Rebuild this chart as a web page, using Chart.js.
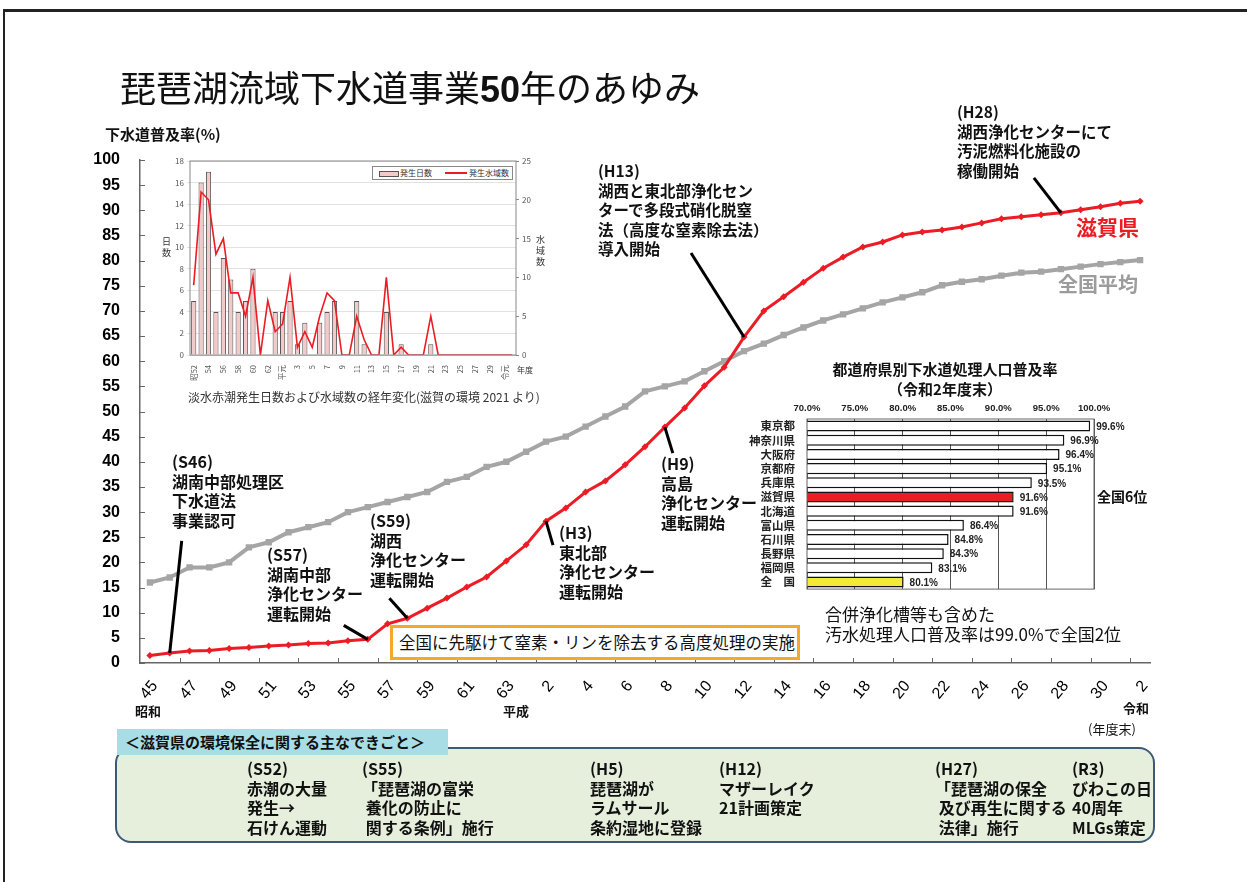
<!DOCTYPE html>
<html lang="ja">
<head>
<meta charset="utf-8">
<title>琵琶湖流域下水道事業50年のあゆみ</title>
<script src="https://cdn.jsdelivr.net/npm/chart.js@4.4.1/dist/chart.umd.min.js"></script>
<style>
  html, body { margin: 0; padding: 0; background: #fff; }
  body { width: 1247px; height: 882px; position: relative; overflow: hidden;
         font-family: 'Noto Sans CJK JP', sans-serif; color: #111; }
  .frame { position: absolute; left: 3px; top: 9px; right: -10px; bottom: -10px;
           border-top: 3px solid #222; border-left: 2px solid #222; }
  canvas { position: absolute; }
  .t { position: absolute; white-space: nowrap; }
  .note { position: absolute; white-space: nowrap; font-weight: bold; font-size: 16px; line-height: 19.6px; }
  .title { left: 120px; top: 68px; font-size: 36px; line-height: 36px; }
  .title b { font-family: 'Liberation Sans', sans-serif; font-weight: bold; }
  .orange { position: absolute; left: 390px; top: 625px; width: 410px; height: 35px; box-sizing: border-box;
            border: 3px solid #f5a82a; background: #fff; font-size: 16.5px; line-height: 29px; padding-left: 6px; white-space: nowrap; }
  .legend1 { position: absolute; left: 372px; top: 166px; width: 141px; height: 14px; box-sizing: border-box;
             border: 1px solid #888; background: #fff; font-size: 8px; line-height: 12px; color: #333; }
  .legend1 span { position: absolute; white-space: nowrap; }
  .tab { position: absolute; left: 117px; top: 729px; width: 331px; height: 26px; background: #a9dde6;
         font-weight: bold; font-size: 15px; line-height: 26px; padding-left: 8px; box-sizing: border-box; z-index: 2; white-space: nowrap; }
  .box { position: absolute; left: 115px; top: 747px; width: 1040px; height: 96px; box-sizing: border-box;
         background: #e5efdc; border: 2px solid #3e5a7a; border-radius: 16px; z-index: 1; }
  .ev { position: absolute; top: 759px; white-space: nowrap; font-weight: bold; font-size: 16px; line-height: 19.6px; z-index: 3; }
</style>
</head>
<body>
<div class="frame"></div>
<canvas id="main" width="1247" height="882" style="left:0;top:0"></canvas>
<canvas id="redTide" width="385" height="235" style="left:160px;top:150px"></canvas>
<canvas id="ranking" width="410" height="204" style="left:740px;top:396px"></canvas>

<div class="t title">琵琶湖流域下水道事業<b>50</b>年のあゆみ</div>
<div class="t" style="left:105px;top:126px;font-size:15px;line-height:15px;font-weight:bold">下水道普及率(%)</div>

<div class="note" style="left:172px;top:452px">(S46)<br>湖南中部処理区<br>下水道法<br>事業認可</div>
<div class="note" style="left:267px;top:545px">(S57)<br>湖南中部<br>浄化センター<br>運転開始</div>
<div class="note" style="left:370px;top:511px">(S59)<br>湖西<br>浄化センター<br>運転開始</div>
<div class="note" style="left:559px;top:523px">(H3)<br>東北部<br>浄化センター<br>運転開始</div>
<div class="note" style="left:661px;top:454px">(H9)<br>高島<br>浄化センター<br>運転開始</div>
<div class="note" style="left:598px;top:161px;font-size:15.5px">(H13)<br>湖西と東北部浄化セン<br>ターで多段式硝化脱窒<br>法（高度な窒素除去法）<br>導入開始</div>
<div class="note" style="left:957px;top:102px;font-size:15.5px">(H28)<br>湖西浄化センターにて<br>汚泥燃料化施設の<br>稼働開始</div>

<div class="t" style="left:1076px;top:216px;font-size:21px;line-height:21px;font-weight:bold;color:#ec1c24">滋賀県</div>
<div class="t" style="left:1058px;top:274px;font-size:20px;line-height:20px;font-weight:bold;color:#9c9c9c">全国平均</div>

<div class="orange">全国に先駆けて窒素・リンを除去する高度処理の実施</div>

<div class="t" style="left:135px;top:704px;font-size:13px;line-height:13px;font-weight:bold">昭和</div>
<div class="t" style="left:503px;top:704px;font-size:13px;line-height:13px;font-weight:bold">平成</div>
<div class="t" style="left:1123px;top:701px;font-size:13px;line-height:13px;font-weight:bold">令和</div>
<div class="t" style="left:1088px;top:722px;font-size:13px;line-height:13px">(年度末)</div>

<!-- 淡水赤潮の小グラフ -->
<div class="t" style="left:162px;top:236px;font-size:9px;line-height:11px;color:#333">日<br>数</div>
<div class="t" style="left:536px;top:234px;font-size:9px;line-height:11px;color:#333">水<br>域<br>数</div>
<div class="t" style="left:517px;top:365px;font-size:8px;line-height:9px;color:#333">年度</div>
<div class="legend1">
  <span style="left:6px;top:4px;width:18px;height:4px;border:1px solid #555;background:#f3c9c9"></span>
  <span style="left:27px;top:0">発生日数</span>
  <span style="left:72px;top:5px;width:22px;height:2px;background:#ec1c24"></span>
  <span style="left:96px;top:0">発生水域数</span>
</div>
<div class="t" style="left:188px;top:390px;font-size:12px;line-height:14px;color:#333">淡水赤潮発生日数および水域数の経年変化(滋賀の環境 2021 より)</div>

<!-- 都道府県別の小グラフ -->
<div class="t" style="left:826px;top:359px;width:238px;text-align:center;font-size:15px;line-height:20px;font-weight:bold">都道府県別下水道処理人口普及率<br>（令和2年度末）</div>
<div class="t" style="left:1097px;top:489px;font-size:14px;line-height:14px;font-weight:bold">全国6位</div>
<div class="t" style="left:825px;top:604px;font-size:17px;line-height:20px">合併浄化槽等も含めた<br>汚水処理人口普及率は99.0%で全国2位</div>

<!-- できごと -->
<div class="tab">＜滋賀県の環境保全に関する主なできごと＞</div>
<div class="box"></div>
<div class="ev" style="left:247px">(S52)<br>赤潮の大量<br>発生→<br>石けん運動</div>
<div class="ev" style="left:362px">(S55)<br>「琵琶湖の富栄<br>&nbsp;養化の防止に<br>&nbsp;関する条例」施行</div>
<div class="ev" style="left:590px">(H5)<br>琵琶湖が<br>ラムサール<br>条約湿地に登録</div>
<div class="ev" style="left:719px">(H12)<br>マザーレイク<br>21計画策定</div>
<div class="ev" style="left:935px">(H27)<br>「琵琶湖の保全<br>&nbsp;及び再生に関する<br>&nbsp;法律」施行</div>
<div class="ev" style="left:1072px">(R3)<br>びわこの日<br>40周年<br>MLGs策定</div>

<script>
// 年度（昭和45年度〜令和2年度）
const eraYears = ['45','46','47','48','49','50','51','52','53','54',
                  '55','56','57','58','59','60','61','62','63','元',
                  '2','3','4','5','6','7','8','9','10','11',
                  '12','13','14','15','16','17','18','19','20','21',
                  '22','23','24','25','26','27','28','29','30','元','2'];

// 下水道普及率（%）
const shigaRate = [1.5, 2.0, 2.4, 2.5, 2.9, 3.1, 3.4, 3.6, 3.9, 4.0,
                   4.4, 4.7, 7.8, 8.9, 10.9, 12.9, 15.1, 17.1, 20.3, 23.5,
                   28.2, 30.8, 34.0, 36.2, 39.4, 43.0, 46.9, 50.7, 55.1, 58.8,
                   64.8, 70.0, 72.8, 75.7, 78.5, 80.7, 82.7, 83.7, 85.1, 85.7,
                   86.1, 86.7, 87.5, 88.3, 88.7, 89.1, 89.5, 90.1, 90.7, 91.4, 91.8];
const zenkokuRate = [16, 17, 19, 19, 20, 23, 24, 26, 27, 28,
                     30, 31, 32, 33, 34, 36, 37, 39, 40, 42,
                     44, 45, 47, 49, 51, 54, 55, 56, 58, 60,
                     62, 63.5, 65.2, 66.7, 68.1, 69.3, 70.5, 71.7, 72.7, 73.7,
                     75.1, 75.8, 76.3, 77.0, 77.6, 77.8, 78.3, 78.8, 79.3, 79.7, 80.1];

// 淡水赤潮（昭和52年度〜令和2年度）
const tideYears = ['昭52','53','54','55','56','57','58','59','60','61',
                   '62','63','平元','2','3','4','5','6','7','8',
                   '9','10','11','12','13','14','15','16','17','18',
                   '19','20','21','22','23','24','25','26','27','28',
                   '29','30','令元','2'];
const tideDays = [5, 16, 17, 4, 9, 7, 4, 5, 8, 0,
                  0, 4, 4, 5, 1, 3, 0, 3, 4, 5,
                  0, 0, 5, 1, 0, 0, 4, 0, 1, 0,
                  0, 0, 1, 0, 0, 0, 0, 0, 0, 0,
                  0, 0, 0, 0];
const tideAreas = [9, 21, 20, 13, 15, 8, 8, 5, 10, 0,
                   7, 3, 4, 10, 1, 3, 1, 5, 8, 7,
                   0, 0, 5, 2, 0, 0, 10, 0, 1, 0,
                   0, 0, 5, 0, 0, 0, 0, 0, 0, 0,
                   0, 0, 0, 0];

// 都道府県別下水道処理人口普及率（令和2年度末）
const prefNames = ['東京都','神奈川県','大阪府','京都府','兵庫県','滋賀県','北海道','富山県','石川県','長野県','福岡県','全　国'];
const prefRates = [99.6, 96.9, 96.4, 95.1, 93.5, 91.6, 91.6, 86.4, 84.8, 84.3, 83.1, 80.1];

const RED = '#ec1c24';
const GRAY = '#a5a5a5';
Chart.defaults.font.family = "'Noto Sans CJK JP', 'Liberation Sans', sans-serif";

// 引き出し線（滋賀県の点から）
const leaders = [
  { i: 1,  dx: 12,  dy: -112 },
  { i: 11, dx: -24, dy: -14 },
  { i: 13, dx: -18, dy: -20 },
  { i: 20, dx: 7,   dy: 24 },
  { i: 26, dx: 8,   dy: 26 },
  { i: 30, dx: -53, dy: -84 },
  { i: 46, dx: -27, dy: -35 }
];

const leaderPlugin = {
  id: 'leaders',
  afterDatasetsDraw(chart) {
    const pts = chart.getDatasetMeta(0).data;
    const ctx = chart.ctx;
    ctx.save();
    ctx.strokeStyle = '#000';
    ctx.lineWidth = 3;
    leaders.forEach(l => {
      const p = pts[l.i];
      ctx.beginPath();
      ctx.moveTo(p.x, p.y);
      ctx.lineTo(p.x + l.dx, p.y + l.dy);
      ctx.stroke();
    });
    ctx.restore();
  }
};

// 内向きの目盛
const innerTicks = {
  id: 'innerTicks',
  afterDraw(chart) {
    const { ctx, chartArea: a, scales: { x, y } } = chart;
    ctx.save();
    ctx.strokeStyle = '#666';
    ctx.lineWidth = 1;
    ctx.beginPath();
    y.ticks.forEach((t, i) => {
      const py = Math.round(y.getPixelForTick(i)) + 0.5;
      ctx.moveTo(a.left, py);
      ctx.lineTo(a.left + 5, py);
    });
    const half = (x.getPixelForValue(1) - x.getPixelForValue(0)) / 2;
    x.ticks.forEach((t, i) => {
      if (i % 2 === 0 && i > 0) {
        const px = Math.round(x.getPixelForValue(i) - half) + 0.5;
        ctx.moveTo(px, a.bottom);
        ctx.lineTo(px, a.bottom - 5);
      }
    });
    ctx.stroke();
    ctx.restore();
  }
};

const framePlugin = {
  id: 'frame',
  afterDatasetsDraw(chart, args, opts) {
    const { ctx, chartArea: a } = chart;
    ctx.save();
    ctx.strokeStyle = opts.color || '#777';
    ctx.lineWidth = opts.width || 1;
    ctx.strokeRect(a.left, a.top, a.right - a.left, a.bottom - a.top);
    ctx.restore();
  }
};

const valueLabels = {
  id: 'valueLabels',
  afterDatasetsDraw(chart) {
    const ctx = chart.ctx;
    ctx.save();
    ctx.font = "bold 10px 'Liberation Sans', sans-serif";
    ctx.fillStyle = '#222';
    ctx.textBaseline = 'middle';
    chart.getDatasetMeta(0).data.forEach((bar, i) => {
      ctx.fillText(prefRates[i].toFixed(1) + '%', bar.x + 6, bar.y + 1);
    });
    ctx.restore();
  }
};

new Chart(document.getElementById('main'), {
  type: 'line',
  data: {
    labels: eraYears,
    datasets: [
      { label: '滋賀県', data: shigaRate, borderColor: RED, backgroundColor: RED,
        borderWidth: 3, pointStyle: 'rectRot', pointRadius: 3.5, pointBorderWidth: 0, tension: 0 },
      { label: '全国平均', data: zenkokuRate, borderColor: GRAY, backgroundColor: GRAY,
        borderWidth: 4, pointStyle: 'rect', pointRadius: 4.5, pointBorderWidth: 0, tension: 0 }
    ]
  },
  options: {
    responsive: false,
    animation: false,
    events: [],
    layout: { padding: { left: 80, right: 97, top: 160, bottom: 179 } },
    plugins: { legend: { display: false }, tooltip: { enabled: false } },
    scales: {
      x: {
        offset: true,
        grid: { display: false },
        border: { display: true, color: '#666', width: 1.5 },
        ticks: {
          autoSkip: false, minRotation: 50, maxRotation: 50, padding: 6, labelOffset: 5,
          color: '#000', font: { size: 16, family: "'Liberation Sans', sans-serif" },
          callback(v, i) { return i % 2 === 0 ? this.getLabelForValue(v) : ''; }
        },
        afterFit(s) { s.height = 40; }
      },
      y: {
        min: 0, max: 100,
        grid: { display: false },
        border: { display: true, color: '#666', width: 1.5 },
        ticks: { stepSize: 5, padding: 12, color: '#000',
                 font: { size: 16, weight: 'bold', family: "'Liberation Sans', sans-serif" } },
        afterFit(s) { s.width = 60; }
      }
    }
  },
  plugins: [leaderPlugin, innerTicks]
});

new Chart(document.getElementById('redTide'), {
  data: {
    labels: tideYears,
    datasets: [
      { type: 'line', label: '発生水域数', data: tideAreas, yAxisID: 'y1',
        borderColor: RED, borderWidth: 1.6, pointRadius: 0, tension: 0, order: 0 },
      { type: 'bar', label: '発生日数', data: tideDays, yAxisID: 'y',
        backgroundColor: '#f3c9c9', borderColor: '#555', borderWidth: 1,
        barPercentage: 0.7, categoryPercentage: 1, order: 1 }
    ]
  },
  options: {
    responsive: false,
    animation: false,
    events: [],
    layout: { padding: { left: 12, right: 11, top: 11, bottom: 0 } },
    plugins: { legend: { display: false }, tooltip: { enabled: false }, frame: { color: '#888' } },
    scales: {
      x: {
        grid: { display: false },
        ticks: {
          autoSkip: false, minRotation: 90, maxRotation: 90, padding: 2,
          color: '#555', font: { size: 7.5 },
          callback(v, i) { return i % 2 === 0 ? this.getLabelForValue(v) : ''; }
        },
        afterFit(s) { s.height = 30; }
      },
      y: {
        position: 'left', min: 0, max: 18,
        grid: { color: '#e2e2e2', tickLength: 3 },
        border: { display: false },
        ticks: { stepSize: 2, padding: 3, color: '#555', font: { size: 8 } },
        afterFit(s) { s.width = 18; }
      },
      y1: {
        position: 'right', min: 0, max: 25,
        grid: { drawOnChartArea: false, tickLength: 3, color: '#888' },
        border: { display: false },
        ticks: { stepSize: 5, padding: 3, color: '#555', font: { size: 8 } },
        afterFit(s) { s.width = 18; }
      }
    }
  },
  plugins: [framePlugin]
});

new Chart(document.getElementById('ranking'), {
  type: 'bar',
  data: {
    labels: prefNames,
    datasets: [{
      label: '下水道処理人口普及率',
      data: prefRates,
      backgroundColor: prefNames.map(n => n === '滋賀県' ? RED : (n === '全　国' ? '#f2e93a' : '#fff')),
      borderColor: '#111',
      borderWidth: 1.5,
      borderSkipped: false,
      barPercentage: 0.78,
      categoryPercentage: 1
    }]
  },
  options: {
    indexAxis: 'y',
    responsive: false,
    animation: false,
    events: [],
    layout: { padding: { left: 3, right: 56, top: 7, bottom: 8 } },
    plugins: { legend: { display: false }, tooltip: { enabled: false }, frame: { color: '#666' } },
    scales: {
      x: {
        position: 'top', min: 70, max: 100,
        grid: { color: '#555', drawTicks: false },
        border: { display: false },
        ticks: { stepSize: 5, padding: 5, color: '#222',
                 font: { size: 9.5, weight: 'bold', family: "'Liberation Sans Narrow', 'Liberation Sans', sans-serif" },
                 callback: v => v.toFixed(1) + '%' },
        afterFit(s) { s.height = 16; }
      },
      y: {
        grid: { display: false },
        border: { display: false },
        ticks: { autoSkip: false, padding: 4, color: '#222', font: { size: 11.5, weight: 'bold' } },
        afterFit(s) { s.width = 64; }
      }
    }
  },
  plugins: [framePlugin, valueLabels]
});
</script>
</body>
</html>
